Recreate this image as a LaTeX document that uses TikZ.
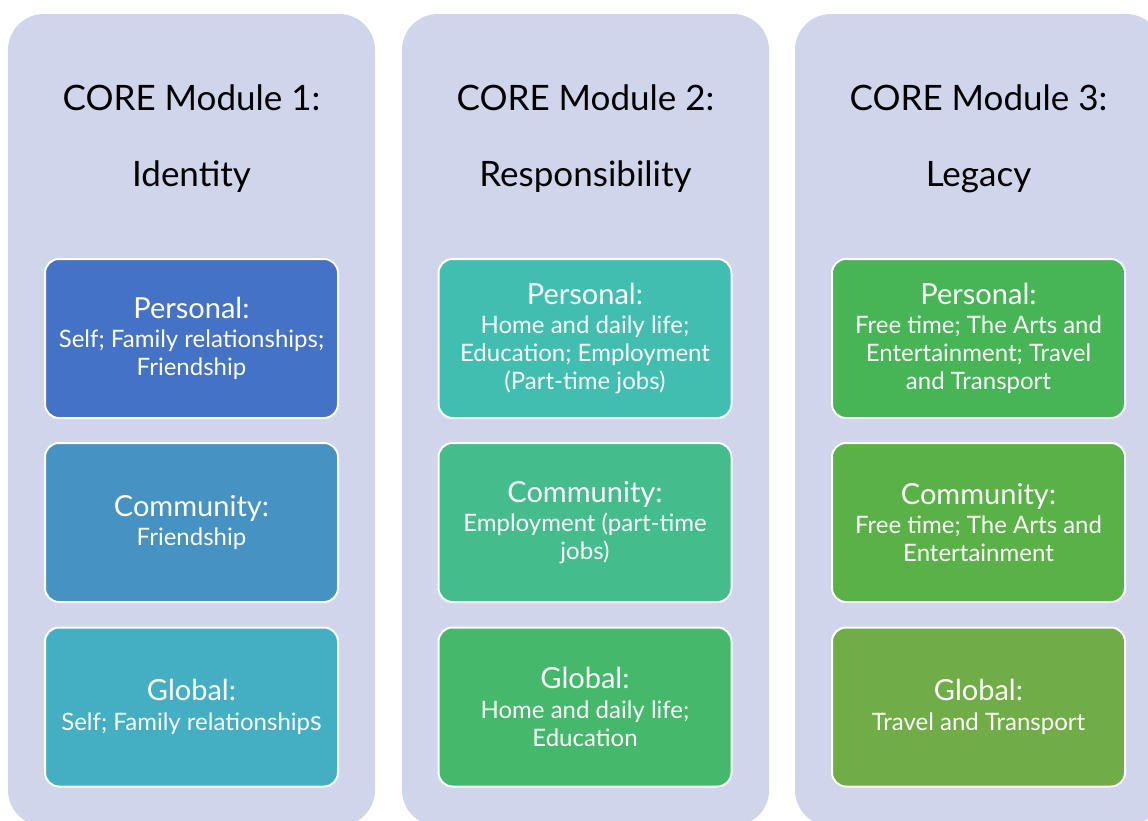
\documentclass[tikz,border=0pt]{standalone}
\usepackage{fontspec}
\setmainfont{Lato}
\definecolor{colbg}{HTML}{CFD5EA}
\definecolor{ca}{HTML}{4472C4}
\definecolor{cb}{HTML}{4592C3}
\definecolor{cc}{HTML}{44AEC2}
\definecolor{cd}{HTML}{42BEB1}
\definecolor{ce}{HTML}{44BC8C}
\definecolor{cf}{HTML}{45B86B}
\definecolor{cg}{HTML}{47B455}
\definecolor{ch}{HTML}{5AB147}
\definecolor{ci}{HTML}{70AD47}
\begin{document}
\begin{tikzpicture}[x=1pt,y=-1pt,
  column/.style={fill=colbg, draw=none, rounded corners=36pt, minimum width=367pt, minimum height=812pt, inner sep=0pt},
  title/.style={font=\fontsize{35}{40}\selectfont, text=black, inner sep=0pt},
  topic/.style={draw=white, line width=2pt, rounded corners=14pt, minimum width=293pt, minimum height=159pt, inner sep=0pt, text=white, align=center, font=\fontsize{24}{28}\selectfont},
]
\useasboundingbox (0,0) rectangle (1148,820);
\fill[white] (0,0) rectangle (1148,820);
\clip (0,0) rectangle (1148,820);
\newcommand{\hdr}[1]{{\fontsize{29}{33}\selectfont #1}\\[1.5pt]}

\node[column] (c1) at (191.5,420) {};
\node[column] (c2) at (585.5,420) {};
\node[column] (c3) at (978.5,420) {};

\node[title] (t1) at (191.5,98) {CORE Module 1:};
\node[title] (s1) at (191.5,177) {Identity};
\node[title] (t2) at (585.5,98) {CORE Module 2:};
\node[title] (s2) at (585.5,177) {Responsibility};
\node[title] (t3) at (978.5,98) {CORE Module 3:};
\node[title] (s3) at (978.5,177) {Legacy};

\node[topic, fill=ca] (p1) at (191.5,338.5) {\hdr{Personal:}Self; Family relationships;\\Friendship};
\node[topic, fill=cb] (m1) at (191.5,522.5) {\hdr{Community:}Friendship};
\node[topic, fill=cc] (g1) at (191.5,707) {\hdr{Global:}Self; Family relationship{\fontsize{27}{28}\selectfont s}};

\node[topic, fill=cd] (p2) at (585,338.5) {\hdr{Personal:}Home and daily life;\\Education; Employment\\(Part-time jobs)};
\node[topic, fill=ce] (m2) at (585,522.5) {\hdr{Community:}Employment (part-time\\jobs)};
\node[topic, fill=cf] (g2) at (585,707) {\hdr{Global:}Home and daily life;\\Education};

\node[topic, fill=cg] (p3) at (978.5,338.5) {\hdr{Personal:}Free time; The Arts and\\Entertainment; Travel\\and Transport};
\node[topic, fill=ch] (m3) at (978.5,522.5) {\hdr{Community:}Free time; The Arts and\\Entertainment};
\node[topic, fill=ci] (g3) at (978.5,707) {\hdr{Global:}Travel and Transport};
\end{tikzpicture}
\end{document}
